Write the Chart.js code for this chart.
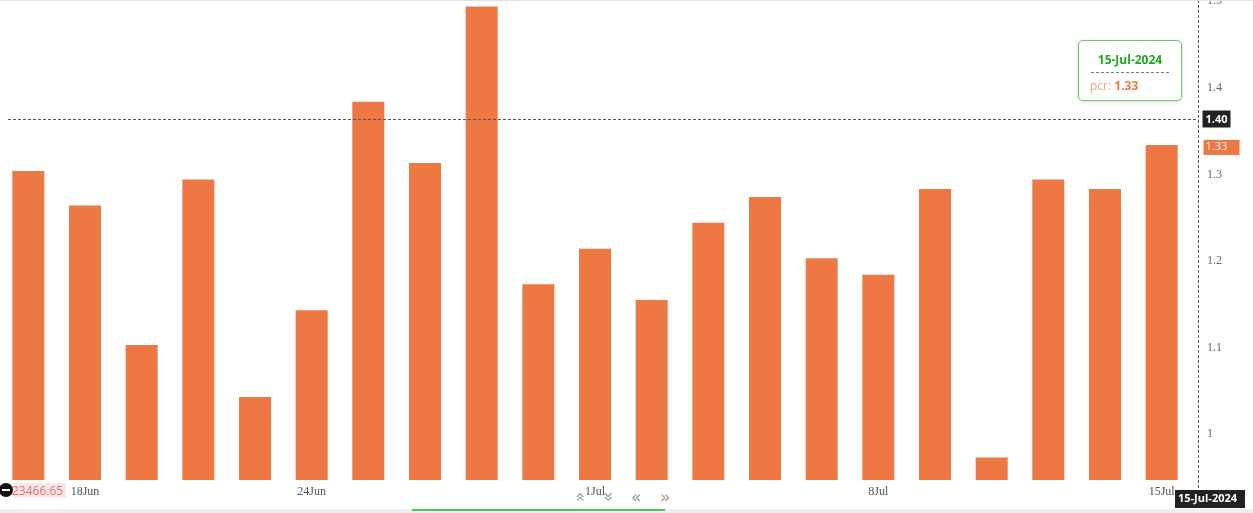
<!DOCTYPE html>
<html>
<head>
<meta charset="utf-8">
<script src="https://cdn.jsdelivr.net/npm/chart.js@4"></script>
<style>
  html, body { margin: 0; padding: 0; background: #fff; overflow: hidden; }
  #wrap { position: relative; width: 1253px; height: 513px; overflow: hidden; }
  #pcrChart { position: absolute; left: 0; top: -15px; }
  .topline { position: absolute; left: 0; right: 0; top: 0; height: 1px; background: #e2e2e2; }
  .tip { position: absolute; left: 1078px; top: 40px; width: 104px; height: 61px; box-sizing: border-box;
         border: 1.5px solid #6fc46a; border-radius: 5px; background: #fff;
         box-shadow: 0 1px 4px rgba(0,0,0,0.15); font-family: "Open Sans", sans-serif; }
  .tip .t { position: absolute; left: 0; right: 0; top: 10px; text-align: center; color: #1fa81f; font-weight: 700; font-size: 12px; }
  .tip .sep { position: absolute; left: 12px; right: 12px; top: 31px; border-top: 1px dashed #777; }
  .tip .v { position: absolute; left: 11px; top: 36px; font-size: 12px; color: #f0a080; }
  .tip .v b { color: #ee7843; }
  .navi { position: absolute; top: 487px; font-size: 17px; color: #999; font-family: "DejaVu Sans", sans-serif; }
  .lp { position: absolute; left: 12px; top: 483px; height: 15px; width: 54px; background: #fde6e6;
        color: #e07070; font: 12px "Open Sans", sans-serif; line-height: 15px; }
  .dot { position: absolute; left: -1px; top: 483px; width: 14px; height: 14px; border-radius: 7px; background: #111; }
  .dot:after { content: ""; position: absolute; left: 3px; right: 3px; top: 6px; height: 2px; background: #fff; }
  .strip { position: absolute; left: 0; right: 0; top: 509px; height: 4px; background: #f0eef0; }
  .green { position: absolute; left: 412px; width: 253px; top: 509px; height: 2px; background: #4ec24e; }
</style>
</head>
<body>
<div id="wrap">
  <canvas id="pcrChart" width="1253" height="528"></canvas>
  <div class="topline"></div>
  <div class="strip"></div>
  <div class="green"></div>
  <div class="lp">23466.65</div>
  <div class="dot"></div>
  <div class="navi" style="left:576px;transform:rotate(90deg);">«</div>
  <div class="navi" style="left:604px;transform:rotate(90deg);">»</div>
  <div class="navi" style="left:631px;">«</div>
  <div class="navi" style="left:660px;">»</div>
  <div class="tip">
    <div class="t">15-Jul-2024</div>
    <div class="sep"></div>
    <div class="v">pcr: <b>1.33</b></div>
  </div>
</div>
<script>
  // 날짜 (거래일)
  const dates = [
    '14Jun', '18Jun', '19Jun', '20Jun', '21Jun',
    '24Jun', '25Jun', '26Jun', '27Jun', '28Jun',
    '1Jul', '2Jul', '3Jul', '4Jul', '5Jul',
    '8Jul', '9Jul', '10Jul', '11Jul', '12Jul', '15Jul'
  ];
  // PCR 값
  const pcr = [
    1.304, 1.264, 1.103, 1.294, 1.043,
    1.143, 1.384, 1.313, 1.494, 1.173,
    1.214, 1.155, 1.244, 1.274, 1.203,
    1.184, 1.283, 0.973, 1.294, 1.283, 1.334
  ];
  const shownLabels = ['18Jun', '24Jun', '1Jul', '8Jul', '15Jul'];
  const yTicks = [1, 1.1, 1.2, 1.3, 1.4, 1.5];
  const crossLabel = '1.40';
  const crossAt = 1.364; // 크로스헤어 선 위치 (값 기준)
  const lastLabel = '1.33';
  const crossDate = '15-Jul-2024';

  const barColor = '#ee7843';
  const OFF = 15; // 캔버스 위쪽 오프셋

  // 크로스헤어 + 축 라벨
  const crosshair = {
    id: 'crosshair',
    afterDraw(chart) {
      const { ctx, chartArea } = chart;
      const y = chart.scales.y;
      const cy = Math.round(y.getPixelForValue(crossAt)) + 0.5;
      const cx = chartArea.right + 8.5;
      ctx.save();
      ctx.strokeStyle = '#555';
      ctx.lineWidth = 1;
      ctx.setLineDash([3, 2]);
      ctx.beginPath();
      ctx.moveTo(8, cy);
      ctx.lineTo(cx, cy);
      ctx.moveTo(cx, OFF);
      ctx.lineTo(cx, OFF + 505);
      ctx.stroke();
      ctx.setLineDash([]);

      ctx.font = 'bold 11px "Open Sans", sans-serif';
      ctx.textBaseline = 'middle';
      // 1.40 박스
      ctx.fillStyle = '#222';
      ctx.fillRect(cx + 4, cy - 9, 28, 17);
      ctx.fillStyle = '#fff';
      ctx.fillText(crossLabel, cx + 7, cy);
      // 1.33 박스
      const ly = y.getPixelForValue(pcr[pcr.length - 1]) + 2;
      ctx.fillStyle = barColor;
      ctx.fillRect(cx + 5, ly - 7, 36, 15);
      ctx.fillStyle = '#fff';
      ctx.font = '11px "Open Sans", sans-serif';
      ctx.fillText(lastLabel, cx + 7, ly);
      // 날짜 박스
      ctx.font = 'bold 11px "Open Sans", sans-serif';
      ctx.fillStyle = '#222';
      ctx.fillRect(1175, OFF + 490, 70, 18);
      ctx.fillStyle = '#fff';
      ctx.fillText(crossDate, 1178, OFF + 499);
      ctx.restore();
    }
  };

  new Chart(document.getElementById('pcrChart'), {
    type: 'bar',
    data: {
      labels: dates,
      datasets: [{
        label: 'pcr',
        data: pcr,
        backgroundColor: barColor,
        barPercentage: 0.565,
        categoryPercentage: 1
      }]
    },
    options: {
      responsive: false,
      animation: false,
      events: [],
      layout: { padding: { left: -4, top: -21, right: 0, bottom: 0 } },
      plugins: { legend: { display: false }, tooltip: { enabled: false } },
      scales: {
        x: {
          grid: { display: false },
          border: { display: false },
          afterFit: (s) => { s.height = 33; },
          ticks: {
            autoSkip: false,
            maxRotation: 0,
            padding: -3,
            color: '#555',
            font: { family: '"Liberation Serif", serif', size: 12 },
            callback(v, i) {
              const l = dates[i];
              return shownLabels.includes(l) ? l : '';
            }
          }
        },
        y: {
          position: 'right',
          min: 0.947,
          max: 1.5,
          grid: { display: false },
          border: { display: false },
          afterFit: (s) => { s.width = 63; },
          afterBuildTicks: (s) => { s.ticks = yTicks.map((v) => ({ value: v })); },
          ticks: {
            padding: 9,
            color: '#666',
            font: { family: '"Liberation Serif", serif', size: 12 },
            callback: (v) => String(Math.round(v * 10) / 10)
          }
        }
      }
    },
    plugins: [crosshair]
  });
</script>
</body>
</html>
